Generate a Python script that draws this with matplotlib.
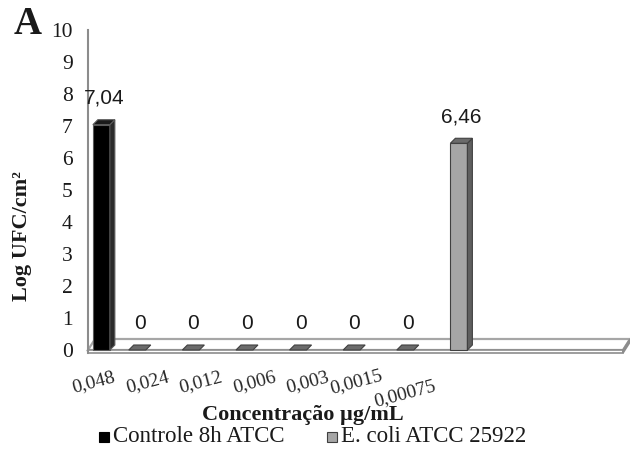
import matplotlib
matplotlib.use("Agg")
import matplotlib.pyplot as plt
from matplotlib.patches import Polygon, Rectangle
import numpy as np

plt.rcParams['font.family'] = ['Liberation Serif', 'DejaVu Serif']

# ---------------- data ----------------
categories = ['0,048', '0,024', '0,012', '0,006', '0,003', '0,0015', '0,00075', '']
controle = [7.04, None, None, None, None, None, None, None]
ecoli = [None, 0, 0, 0, 0, 0, 0, 6.46]
series_names = ['Controle 8h ATCC', 'E. coli ATCC 25922']
yticks = list(range(0, 11))

# ---------------- layout ----------------
W, H = 630, 458
fig = plt.figure(figsize=(W / 100, H / 100), dpi=100)
ax_l, ax_r, ax_top, ax_bot = 88, 623, 30, 350
ax = fig.add_axes([ax_l / W, 1 - ax_bot / H, (ax_r - ax_l) / W, (ax_bot - ax_top) / H])
xmin, xmax = -0.084, 9.897
ax.set_xlim(xmin, xmax)
ax.set_ylim(0, 10)
px_x = (xmax - xmin) / (ax_r - ax_l)
px_y = 10 / (ax_bot - ax_top)

for s in ax.spines.values():
    s.set_visible(False)
ax.set_xticks([])
ax.set_yticks(yticks)
ax.set_yticklabels([str(t) for t in yticks], fontsize=15.5, color='#1a1a1a')
ax.tick_params(axis='y', length=0, pad=11)

# floor (3D slab)
fdx, fdy, fth = 7, 11, 3
floor_top = Polygon([(xmin, 0), (xmax, 0), (xmax + fdx * px_x, fdy * px_y),
                     (xmin + fdx * px_x, fdy * px_y)], closed=True,
                    facecolor='white', edgecolor='#a6a6a6', lw=1.6, clip_on=False, zorder=1)
floor_front = Polygon([(xmin, -fth * px_y), (xmax, -fth * px_y), (xmax, 0), (xmin, 0)],
                      closed=True, facecolor='white', edgecolor='#8c8c8c', lw=1.2,
                      clip_on=False, zorder=1)
floor_side = Polygon([(xmax, -fth * px_y), (xmax + fdx * px_x, (fdy - fth) * px_y),
                      (xmax + fdx * px_x, fdy * px_y), (xmax, 0)], closed=True,
                     facecolor='white', edgecolor='#8c8c8c', lw=1.2, clip_on=False, zorder=1)
for p in (floor_top, floor_front, floor_side):
    ax.add_patch(p)

# y axis line
ax.plot([xmin, xmin], [-fth * px_y, 10], color='#8c8c8c', lw=1.5, clip_on=False, zorder=2)

# bars
bw = 17 * px_x
ddx, ddy = 5 * px_x, 5 * px_y
styles = [
    dict(front='#000000', side='#2b2b2b', top='#1a1a1a', edge='#5a5a5a', off=0.165),
    dict(front='#a6a6a6', side='#5f5f5f', top='#6b6b6b', edge='#404040', off=-0.165),
]


def draw_bar(x, v, st):
    xl, xr = x - bw / 2, x + bw / 2
    if v > 0:
        ax.add_patch(Polygon([(xl, 0), (xr, 0), (xr, v), (xl, v)], closed=True,
                             facecolor=st['front'], edgecolor=st['edge'], lw=0.8,
                             zorder=3, clip_on=False))
        ax.add_patch(Polygon([(xr, 0), (xr + ddx, ddy), (xr + ddx, v + ddy), (xr, v)],
                             closed=True, facecolor=st['side'], edgecolor=st['edge'],
                             lw=0.8, zorder=3, clip_on=False))
    ax.add_patch(Polygon([(xl, v), (xr, v), (xr + ddx, v + ddy), (xl + ddx, v + ddy)],
                         closed=True, facecolor=st['top'], edgecolor=st['edge'], lw=0.8,
                         zorder=3, clip_on=False))
    lab = ('%.2f' % v).replace('.', ',') if v else '0'
    ax.annotate(lab, xy=(x + ddx / 2, v + ddy), xytext=(0, 12), textcoords='offset pixels',
                ha='center', va='bottom', fontsize=15, family=['Liberation Sans'],
                color='#1a1a1a', zorder=5, annotation_clip=False)


for vals, st in zip([controle, ecoli], styles):
    for i, v in enumerate(vals):
        if v is None:
            continue
        draw_bar(i + st['off'], v, st)

# category labels
lab_shift = [(0, 0), (0, 0), (0, 0), (0, 0), (0, 0), (-5, 0), (-10, -12), (0, 0)]
for i, (c, (sx, sy)) in enumerate(zip(categories, lab_shift)):
    if not c:
        continue
    ax.annotate(c, xy=(i, 0), xytext=(sx + 1, -32 + sy), textcoords='offset pixels',
                ha='center', va='center', rotation=15, rotation_mode='anchor',
                fontsize=14, color='#262626', annotation_clip=False)

# titles
fig.text(303 / W, 1 - 415 / H, 'Concentração µg/mL', ha='center', va='center',
         fontsize=16, fontweight='bold', color='#1a1a1a')
fig.text(22 / W, 1 - 236 / H, 'Log UFC/cm²', ha='center', va='center', rotation=90,
         fontsize=16, fontweight='bold', color='#1a1a1a')
fig.text(14 / W, 1 - 24 / H, 'A', ha='left', va='center', fontsize=28,
         fontweight='bold', color='#1a1a1a')

# legend (drawn manually for square keys)
leg_y = 437
leg_items = [(99, styles[0]['front'], '#000000'), (327, styles[1]['front'], '#404040')]
for (lx, fc, ec), name in zip(leg_items, series_names):
    fig.patches.append(Rectangle((lx / W, 1 - (leg_y + 5) / H), 10 / W, 10 / H,
                                 transform=fig.transFigure, facecolor=fc, edgecolor=ec,
                                 lw=0.8))
    fig.text((lx + 14) / W, 1 - leg_y / H, name, ha='left', va='center',
             fontsize=16.5, color='#1a1a1a')

fig.savefig('out.png', dpi=100)
